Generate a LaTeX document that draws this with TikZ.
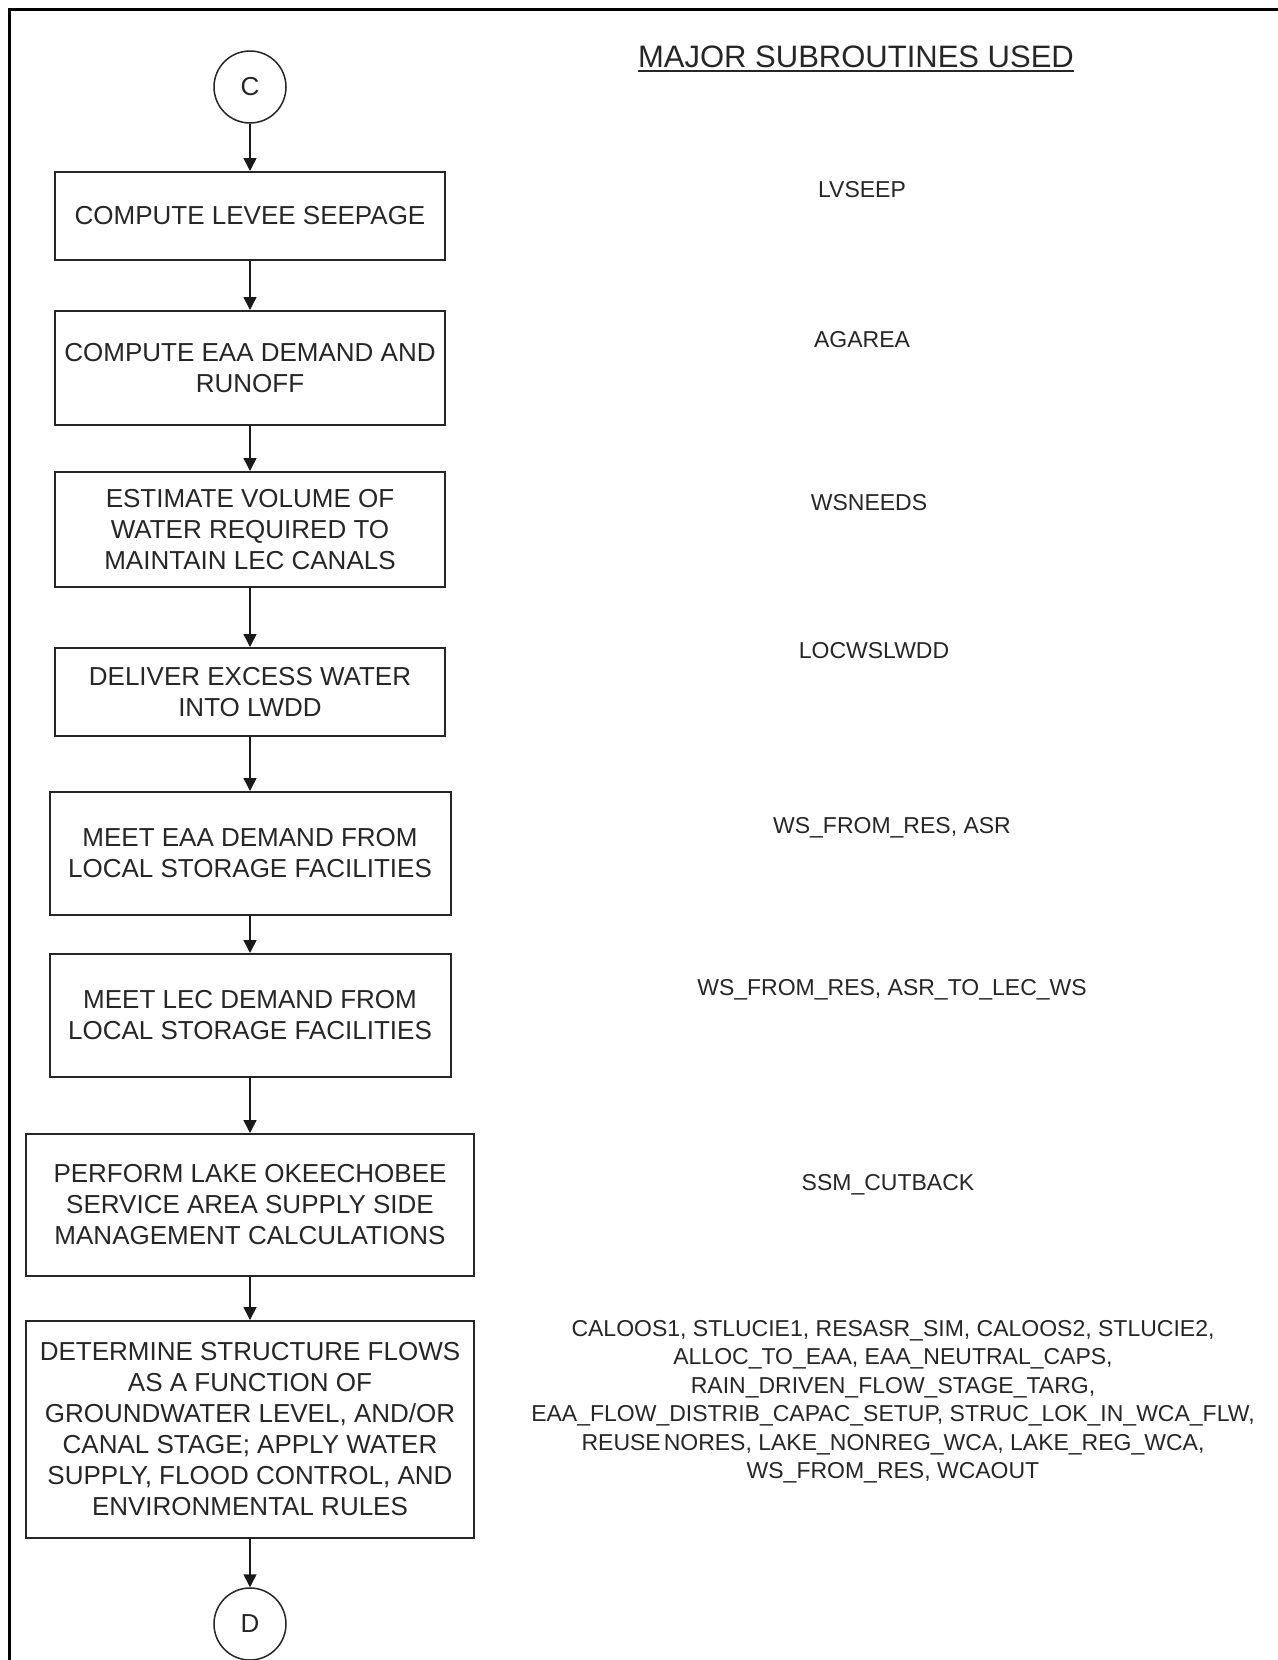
\documentclass[tikz,border=0pt]{standalone}
\usepackage{fontspec}
\setmainfont{Liberation Sans}
\usetikzlibrary{arrows.meta,calc}
\begin{document}
\begin{tikzpicture}[x=0.5pt,y=-0.5pt,
  stepbox/.style={draw=black!85, line width=1pt, inner sep=0pt, align=center,
    font=\fontsize{13pt}{15.5pt}\selectfont, text=black!85},
  connector/.style={circle, draw=black!85, line width=0.75pt, minimum size=36pt,
    inner sep=0pt, font=\fontsize{13pt}{15.5pt}\selectfont, text=black!85},
  flow/.style={draw=black!90, line width=0.75pt, -{Triangle[length=6.5pt,width=6.5pt]}},
  subr/.style={inner sep=0pt, anchor=base, font=\fontsize{11.5pt}{14.2pt}\selectfont, text=black!85},
]
\useasboundingbox (0,0) rectangle (1278,1660);
\fill[white] (0,0) rectangle (1278,1660);
% page frame (left and top edges)
\draw[line width=1.5pt] (9,1664) -- (9,9) -- (1282,9);

% flow chart column
\node[connector] (c) at (250,87) {C};
\node[stepbox, minimum width=195pt, minimum height=44pt] (b1) at (250,216) {COMPUTE LEVEE SEEPAGE};
\node[stepbox, minimum width=195pt, minimum height=57pt] (b2) at (250,368) {COMPUTE EAA DEMAND AND\\RUNOFF};
\node[stepbox, minimum width=195pt, minimum height=57.5pt] (b3) at (250,529.5) {ESTIMATE VOLUME OF\\WATER REQUIRED TO\\MAINTAIN LEC CANALS};
\node[stepbox, minimum width=195pt, minimum height=44pt] (b4) at (250,692) {DELIVER EXCESS WATER\\INTO LWDD};
\node[stepbox, minimum width=200.5pt, minimum height=61.5pt] (b5) at (250,853.5) {MEET EAA DEMAND FROM\\LOCAL STORAGE FACILITIES};
\node[stepbox, minimum width=200.5pt, minimum height=61.5pt] (b6) at (250,1015.5) {MEET LEC DEMAND FROM\\LOCAL STORAGE FACILITIES};
\node[stepbox, minimum width=224pt, minimum height=71pt] (b7) at (250,1205) {PERFORM LAKE OKEECHOBEE\\SERVICE AREA SUPPLY SIDE\\MANAGEMENT CALCULATIONS};
\node[stepbox, minimum width=224pt, minimum height=108.5pt] (b8) at (250,1429.5) {DETERMINE STRUCTURE FLOWS\\AS A FUNCTION OF\\GROUNDWATER LEVEL, AND/OR\\CANAL STAGE; APPLY WATER\\SUPPLY, FLOOD CONTROL, AND\\ENVIRONMENTAL RULES};
\node[connector] (d) at (250,1624) {D};

\draw[flow] (c) -- (b1);
\draw[flow] (b1) -- (b2);
\draw[flow] (b2) -- (b3);
\draw[flow] (b3) -- (b4);
\draw[flow] (b4) -- (b5);
\draw[flow] (b5) -- (b6);
\draw[flow] (b6) -- (b7);
\draw[flow] (b7) -- (b8);
\draw[flow] (b8) -- (d);

% subroutine column
\node[subr, font=\fontsize{15.5pt}{18pt}\selectfont] (title) at (856,67) {MAJOR SUBROUTINES USED};
\draw[black!85, line width=1pt] ([yshift=-2pt]title.base west) -- ([yshift=-2pt]title.base east);
\node[subr] (s1) at (862,197) {LVSEEP};
\node[subr] (s2) at (862,347) {AGAREA};
\node[subr] (s3) at (869,510) {WSNEEDS};
\node[subr] (s4) at (874,658) {LOCWSLWDD};
\node[subr] (s5) at (892,833) {WS\_FROM\_RES, ASR};
\node[subr] (s6) at (892,995) {WS\_FROM\_RES, ASR\_TO\_LEC\_WS};
\node[subr] (s7) at (888,1190) {SSM\_CUTBACK};
\node[subr, anchor=north, align=center] (s8) at (893,1320) {CALOOS1, STLUCIE1, RESASR\_SIM, CALOOS2, STLUCIE2,\\
ALLOC\_TO\_EAA, EAA\_NEUTRAL\_CAPS,\\
RAIN\_DRIVEN\_FLOW\_STAGE\_TARG,\\
EAA\_FLOW\_DISTRIB\_CAPAC\_SETUP, STRUC\_LOK\_IN\_WCA\_FLW,\\
REUSE\kern1.5pt NORES, LAKE\_NONREG\_WCA, LAKE\_REG\_WCA,\\
WS\_FROM\_RES, WCAOUT};
\end{tikzpicture}
\end{document}
